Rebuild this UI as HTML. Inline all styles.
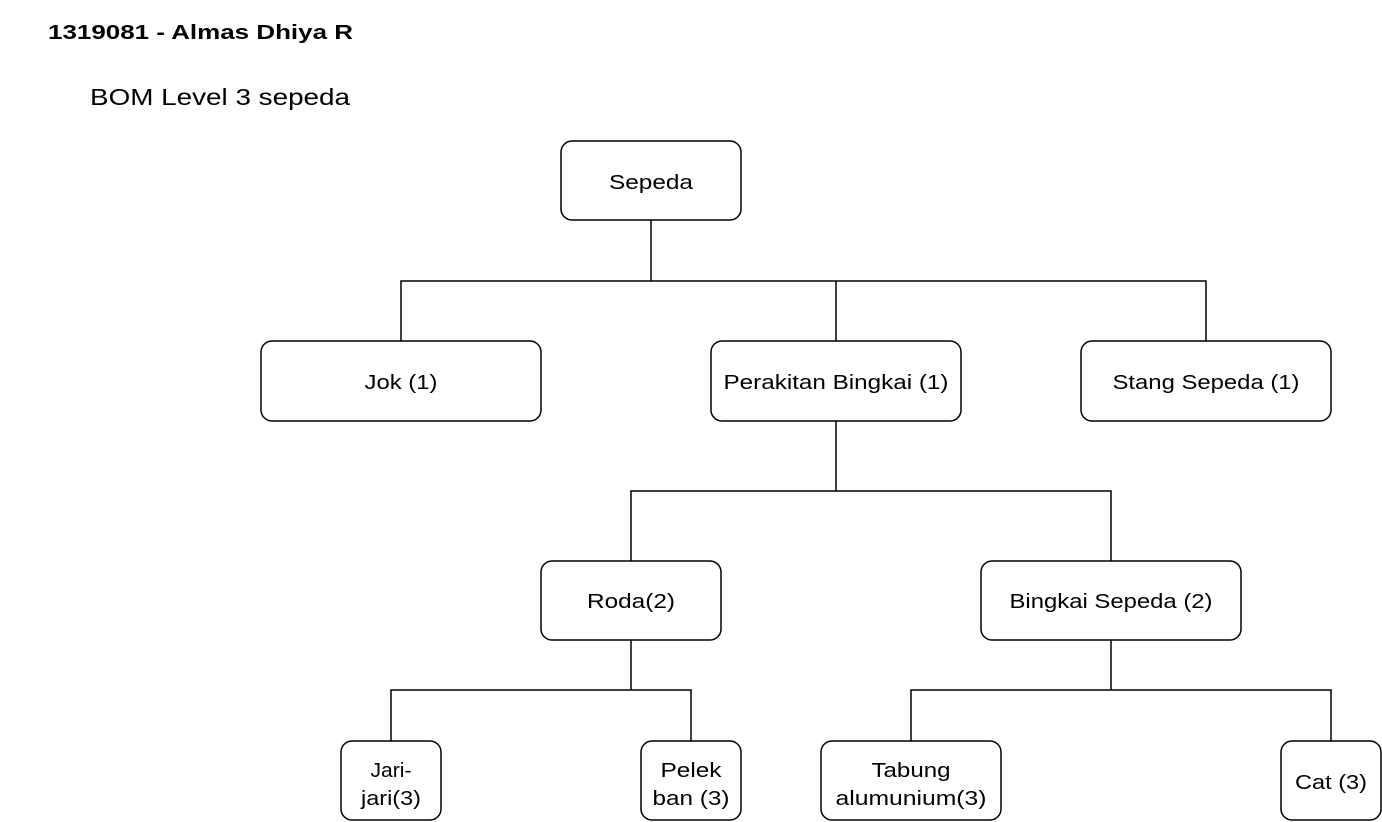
<!DOCTYPE html>
<html><head><meta charset="utf-8"><style>
html,body{margin:0;padding:0;background:#fff;}
svg{display:block;}
text{font-family:"Liberation Sans",Arial,sans-serif;fill:#000;}
</style></head><body>
<svg width="1382" height="822" viewBox="0 0 1382 822" xmlns="http://www.w3.org/2000/svg">
<text x="48" y="39" font-size="20" font-weight="bold" textLength="305" lengthAdjust="spacingAndGlyphs">1319081 - Almas Dhiya R</text>
<text x="90" y="105" font-size="23" textLength="260" lengthAdjust="spacingAndGlyphs">BOM Level 3 sepeda</text>
<g fill="none" stroke="#000" stroke-width="1.5">
<path d="M651 220V281M401 341V281H1206V341M836 281V341"/>
<path d="M836 421V491M631 561V491H1111V561"/>
<path d="M631 640V690M391 741V690H691V741"/>
<path d="M1111 640V690M911 741V690H1331V741"/>
<rect x="561" y="141" width="180" height="79" rx="11"/>
<rect x="261" y="341" width="280" height="80" rx="11"/>
<rect x="711" y="341" width="250" height="80" rx="11"/>
<rect x="1081" y="341" width="250" height="80" rx="11"/>
<rect x="541" y="561" width="180" height="79" rx="11"/>
<rect x="981" y="561" width="260" height="79" rx="11"/>
<rect x="341" y="741" width="100" height="79" rx="11"/>
<rect x="641" y="741" width="100" height="79" rx="11"/>
<rect x="821" y="741" width="180" height="79" rx="11"/>
<rect x="1281" y="741" width="100" height="79" rx="11"/>
</g>
<g font-size="20" text-anchor="middle">
<text x="651" y="189" textLength="84" lengthAdjust="spacingAndGlyphs">Sepeda</text>
<text x="401" y="389" textLength="73" lengthAdjust="spacingAndGlyphs">Jok (1)</text>
<text x="836" y="389" textLength="225" lengthAdjust="spacingAndGlyphs">Perakitan Bingkai (1)</text>
<text x="1206" y="389" textLength="187" lengthAdjust="spacingAndGlyphs">Stang Sepeda (1)</text>
<text x="631" y="608" textLength="88" lengthAdjust="spacingAndGlyphs">Roda(2)</text>
<text x="1111" y="608" textLength="203" lengthAdjust="spacingAndGlyphs">Bingkai Sepeda (2)</text>
<text x="391" y="777" textLength="41" lengthAdjust="spacingAndGlyphs">Jari-</text>
<text x="391" y="805" textLength="60" lengthAdjust="spacingAndGlyphs">jari(3)</text>
<text x="691" y="777" textLength="61" lengthAdjust="spacingAndGlyphs">Pelek</text>
<text x="691" y="805" textLength="77" lengthAdjust="spacingAndGlyphs">ban (3)</text>
<text x="911" y="777" textLength="79" lengthAdjust="spacingAndGlyphs">Tabung</text>
<text x="911" y="805" textLength="151" lengthAdjust="spacingAndGlyphs">alumunium(3)</text>
<text x="1331" y="789" textLength="72" lengthAdjust="spacingAndGlyphs">Cat (3)</text>
</g>
</svg>
</body></html>
